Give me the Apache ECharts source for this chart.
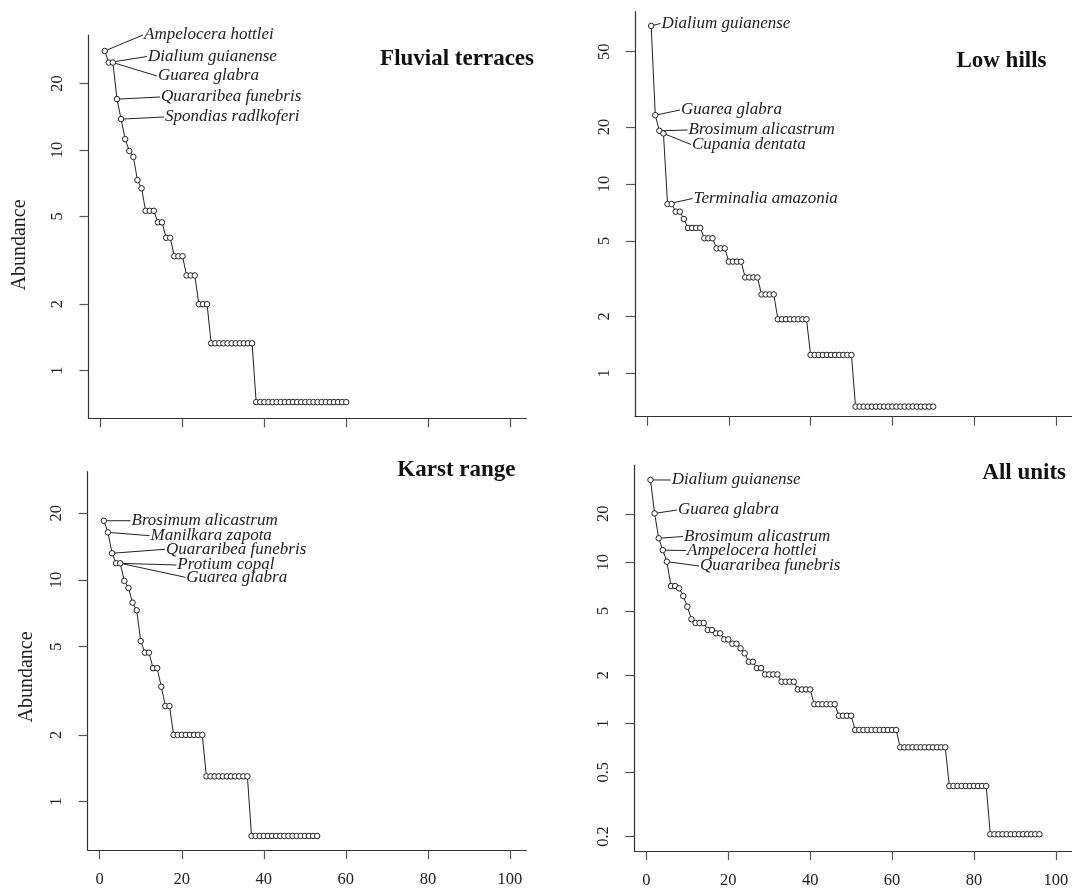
<!DOCTYPE html>
<html>
<head>
<meta charset="utf-8">
<title>Rank-abundance curves by landscape unit</title>
<script src="https://cdn.jsdelivr.net/npm/echarts@6.0.0/dist/echarts.min.js"></script>
<style>
  html, body { margin: 0; padding: 0; background: #fff; }
  #chart { width: 1072px; height: 890px; }
</style>
</head>
<body>
<div id="chart"></div>
<script>
// abundance per species, sorted; rank = index + 1
const fluvialAbund = [
  28.1, 24.9, 24.9, 17.0, 13.8, 11.2, 9.9, 9.3, 7.3, 6.7,
  5.3, 5.3, 5.3, 4.7, 4.7, 4.0, 4.0, 3.3, 3.3, 3.3,
  2.7, 2.7, 2.7, 2.0, 2.0, 2.0,
  1.33, 1.33, 1.33, 1.33, 1.33, 1.33, 1.33, 1.33, 1.33, 1.33, 1.33,
  0.72, 0.72, 0.72, 0.72, 0.72, 0.72, 0.72, 0.72, 0.72, 0.72, 0.72, 0.72,
  0.72, 0.72, 0.72, 0.72, 0.72, 0.72, 0.72, 0.72, 0.72, 0.72, 0.72
]
const lowHillsAbund = [
  68.4, 23.1, 19.1, 18.5, 7.84, 7.84, 7.14, 7.14, 6.53,
  5.86, 5.86, 5.86, 5.86, 5.17, 5.17, 5.17, 4.57, 4.57, 4.57,
  3.89, 3.89, 3.89, 3.89, 3.21, 3.21, 3.21, 3.21, 2.61, 2.61, 2.61, 2.61,
  1.93, 1.93, 1.93, 1.93, 1.93, 1.93, 1.93, 1.93,
  1.25, 1.25, 1.25, 1.25, 1.25, 1.25, 1.25, 1.25, 1.25, 1.25, 1.25,
  0.667, 0.667, 0.667, 0.667, 0.667, 0.667, 0.667, 0.667, 0.667, 0.667,
  0.667, 0.667, 0.667, 0.667, 0.667, 0.667, 0.667, 0.667, 0.667, 0.667
]
const karstAbund = [
  18.5, 16.4, 13.2, 11.9, 11.9, 9.9, 9.2, 7.9, 7.3, 5.3,
  4.7, 4.7, 4.0, 4.0, 3.3, 2.7, 2.7,
  2.0, 2.0, 2.0, 2.0, 2.0, 2.0, 2.0, 2.0,
  1.3, 1.3, 1.3, 1.3, 1.3, 1.3, 1.3, 1.3, 1.3, 1.3, 1.3,
  0.70, 0.70, 0.70, 0.70, 0.70, 0.70, 0.70, 0.70, 0.70,
  0.70, 0.70, 0.70, 0.70, 0.70, 0.70, 0.70, 0.70
]
const allUnitsAbund = [
  32.4, 20.1, 14.1, 11.9, 10.1, 7.13, 7.13, 6.9, 6.18, 5.31, 4.44,
  4.21, 4.21, 4.21, 3.81, 3.81, 3.63, 3.63, 3.33, 3.33, 3.13, 3.13,
  2.93, 2.73, 2.42, 2.42, 2.21, 2.21, 2.02, 2.02, 2.02, 2.02,
  1.82, 1.82, 1.82, 1.82, 1.63, 1.63, 1.63, 1.63,
  1.32, 1.32, 1.32, 1.32, 1.32, 1.32, 1.12, 1.12, 1.12, 1.12,
  0.914, 0.914, 0.914, 0.914, 0.914, 0.914, 0.914, 0.914, 0.914, 0.914, 0.914,
  0.714, 0.714, 0.714, 0.714, 0.714, 0.714, 0.714, 0.714, 0.714, 0.714, 0.714, 0.714,
  0.411, 0.411, 0.411, 0.411, 0.411, 0.411, 0.411, 0.411, 0.411, 0.411,
  0.2065, 0.2065, 0.2065, 0.2065, 0.2065, 0.2065, 0.2065, 0.2065, 0.2065,
  0.2065, 0.2065, 0.2065, 0.2065
]

// labelled species, top ranks 1..5
const fluvialSpecies = ['Ampelocera hottlei', 'Dialium guianense', 'Guarea glabra', 'Quararibea funebris', 'Spondias radlkoferi']
const lowHillsSpecies = ['Dialium guianense', 'Guarea glabra', 'Brosimum alicastrum', 'Cupania dentata', 'Terminalia amazonia']
const karstSpecies = ['Brosimum alicastrum', 'Manilkara zapota', 'Quararibea funebris', 'Protium copal', 'Guarea glabra']
const allUnitsSpecies = ['Dialium guianense', 'Guarea glabra', 'Brosimum alicastrum', 'Ampelocera hottlei', 'Quararibea funebris']

const unitTitles = ['Fluvial terraces', 'Low hills', 'Karst range', 'All units']
const xTicks = [0, 20, 40, 60, 80, 100]
const yTicksFluvial = [1, 2, 5, 10, 20]
const yTicksLowHills = [1, 2, 5, 10, 20, 50]
const yTicksKarst = [1, 2, 5, 10, 20]
const yTicksAll = [0.2, 0.5, 1, 2, 5, 10, 20]

const SERIF = '"Liberation Serif", "Times New Roman", serif'
const INK = '#222'

// layout of each panel (pixels)
const panels = [
  {
    data: fluvialAbund, species: fluvialSpecies, yTicks: yTicksFluvial,
    grid: { left: 88.5, top: 35, width: 437.7, height: 383.3 },
    yRange: [0.608, 33.2], showX: false, yName: [20, 245],
    title: [534, 59],
    labelPos: [[144, 35], [148, 56.5], [158, 76], [161, 97], [165, 117]],
  },
  {
    data: lowHillsAbund, species: lowHillsSpecies, yTicks: yTicksLowHills,
    grid: { left: 635, top: 11.7, width: 438, height: 405 },
    yRange: [0.59, 81.3], showX: false, yName: null,
    title: [1046.5, 61.5],
    labelPos: [[661.5, 23.5], [681, 110], [688.5, 130], [692, 144.5], [693.5, 198.5]],
  },
  {
    data: karstAbund, species: karstSpecies, yTicks: yTicksKarst,
    grid: { left: 87.6, top: 471.7, width: 438.6, height: 378.3 },
    yRange: [0.605, 30.8], showX: true, yName: [27, 677],
    title: [515.5, 470],
    labelPos: [[131.5, 520.7], [150.5, 535.7], [166, 549.3], [177.3, 565], [186.3, 577.3]],
  },
  {
    data: allUnitsAbund, species: allUnitsSpecies, yTicks: yTicksAll,
    grid: { left: 634.3, top: 465, width: 439.5, height: 386 },
    yRange: [0.1626, 40.1], showX: true, yName: null,
    title: [1066, 473],
    labelPos: [[671.7, 480], [678, 510], [684, 536.5], [687, 550.5], [700, 566]],
  },
]

const chart = echarts.init(document.getElementById('chart'), null, { renderer: 'canvas' })

const axisLine = { show: true, onZero: false, lineStyle: { color: '#333', width: 1.2 } }
const axisTickStyle = { lineStyle: { color: '#555', width: 1.2 } }

chart.setOption({
  animation: false,
  backgroundColor: '#fff',
  grid: panels.map((p) => ({ ...p.grid, containLabel: false })),
  xAxis: panels.map((p, i) => ({
    type: 'value',
    gridIndex: i,
    min: -2.96,
    max: 103.96,
    axisLine,
    axisTick: { show: true, length: 9, customValues: xTicks, ...axisTickStyle },
    axisLabel: {
      show: p.showX,
      customValues: xTicks,
      margin: 21,
      color: INK,
      fontFamily: SERIF,
      fontSize: 16.5,
    },
    splitLine: { show: false },
  })),
  yAxis: panels.map((p, i) => ({
    type: 'log',
    logBase: 10,
    gridIndex: i,
    min: p.yRange[0],
    max: p.yRange[1],
    axisLine,
    axisTick: { show: true, length: 9, customValues: p.yTicks, ...axisTickStyle },
    axisLabel: {
      customValues: p.yTicks,
      rotate: 90,
      margin: 22,
      color: INK,
      fontFamily: SERIF,
      fontSize: 16.5,
      formatter: (v) => String(+v.toPrecision(3)),
    },
    splitLine: { show: false },
  })),
  series: panels.map((p, i) => ({
    type: 'line',
    xAxisIndex: i,
    yAxisIndex: i,
    data: p.data.map((v, k) => [k + 1, v]),
    symbol: 'circle',
    symbolSize: 5.5,
    showAllSymbol: true,
    lineStyle: { color: INK, width: 1 },
    itemStyle: { color: '#fff', borderColor: INK, borderWidth: 1 },
    z: 3,
  })),
})

// titles, axis names and species call-outs
const graphic = []
panels.forEach((p, i) => {
  graphic.push({
    type: 'text',
    x: p.title[0],
    y: p.title[1],
    style: {
      text: unitTitles[i],
      font: 'bold 23px ' + SERIF,
      fill: '#111',
      align: 'right',
      verticalAlign: 'middle',
    },
  })
  if (p.yName) {
    graphic.push({
      type: 'text',
      x: p.yName[0],
      y: p.yName[1],
      rotation: Math.PI / 2,
      style: {
        text: 'Abundance',
        font: '20px ' + SERIF,
        fill: INK,
        align: 'center',
        verticalAlign: 'middle',
      },
    })
  }
  p.species.forEach((name, k) => {
    const pt = chart.convertToPixel({ gridIndex: i }, [k + 1, p.data[k]])
    const [tx, ty] = p.labelPos[k]
    graphic.push({
      type: 'line',
      z: 1,
      shape: { x1: pt[0], y1: pt[1], x2: tx - 1, y2: ty },
      style: { stroke: INK, lineWidth: 1 },
    })
    graphic.push({
      type: 'text',
      x: tx,
      y: ty,
      style: {
        text: name,
        font: 'italic 17px ' + SERIF,
        fill: INK,
        align: 'left',
        verticalAlign: 'middle',
      },
    })
  })
})
chart.setOption({ graphic })
</script>
</body>
</html>
